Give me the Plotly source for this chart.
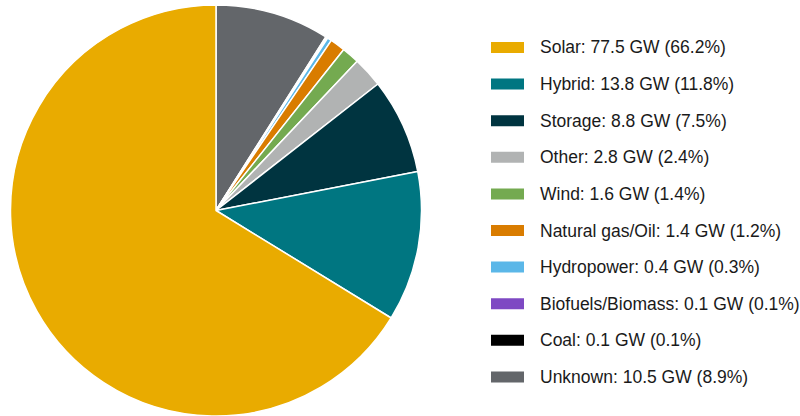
import plotly.graph_objects as go

labels = ["Solar", "Hybrid", "Storage", "Other", "Wind", "Natural gas/Oil",
          "Hydropower", "Biofuels/Biomass", "Coal", "Unknown"]
gw = [77.5, 13.8, 8.8, 2.8, 1.6, 1.4, 0.4, 0.1, 0.1, 10.5]
pct = ["66.2%", "11.8%", "7.5%", "2.4%", "1.4%", "1.2%", "0.3%", "0.1%", "0.1%", "8.9%"]
colors = ["#E9AB00", "#007681", "#003440", "#B1B3B3", "#74AA50", "#D97C00",
          "#5BB7E8", "#7E49C3", "#000000", "#63666A"]

W, H = 800, 416
fig = go.Figure()
fig.add_trace(go.Pie(
    labels=labels[::-1], values=gw[::-1], sort=False, direction="clockwise",
    rotation=0, textinfo="none", hoverinfo="label+value+percent",
    marker=dict(colors=colors[::-1], line=dict(color="white", width=1.5)),
    domain=dict(x=[10 / W, 422 / W], y=[0, 0.988]),
    showlegend=False,
))

# Manual legend built from the data lists
y0, dy = 47.5, 36.6
shapes, annotations = [], []
for i, (lab, v, p, c) in enumerate(zip(labels, gw, pct, colors)):
    yc = y0 + i * dy
    shapes.append(dict(type="rect", xref="paper", yref="paper",
                       x0=491 / W, x1=524 / W,
                       y0=1 - (yc + 5.5) / H, y1=1 - (yc - 5.5) / H,
                       fillcolor=c, line=dict(width=0)))
    annotations.append(dict(xref="paper", yref="paper", x=538 / W, y=1 - yc / H,
                            xanchor="left", yanchor="middle", showarrow=False,
                            text=f"{lab}: {v} GW ({p})",
                            font=dict(family="Liberation Sans, Arial", size=17.5, color="#1a1a1a")))

fig.update_layout(width=W, height=H, margin=dict(l=0, r=0, t=0, b=0),
                  paper_bgcolor="white", plot_bgcolor="white",
                  shapes=shapes, annotations=annotations)
fig.write_html("out.html", config={"displayModeBar": False},
               post_script="document.body.style.margin='0';")
